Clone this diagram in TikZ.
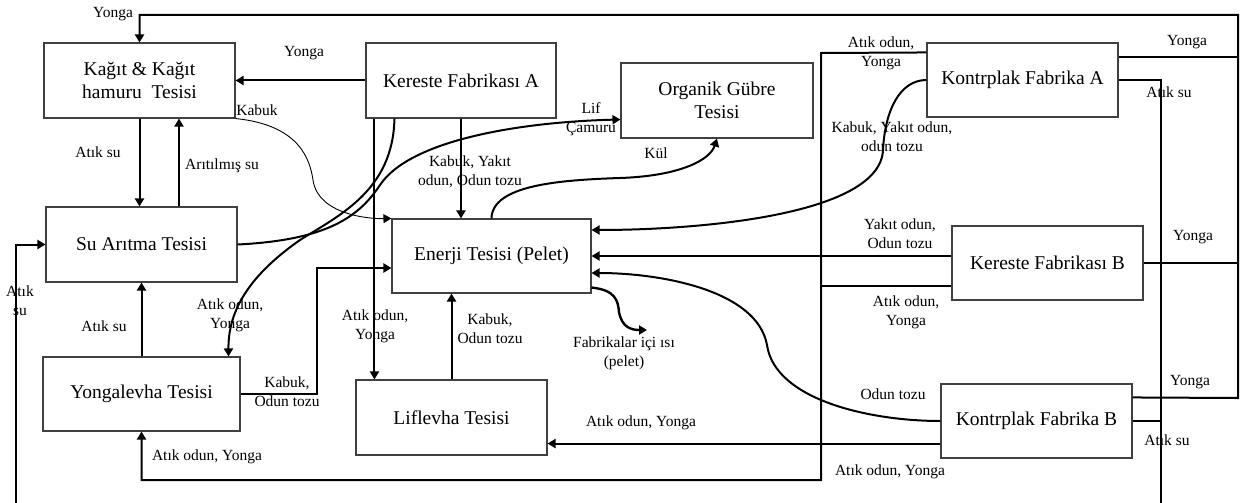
\documentclass[tikz,border=0pt]{standalone}
\usepackage{fontspec}
\setmainfont{Liberation Serif}
\usetikzlibrary{arrows.meta,calc}
\begin{document}
\begin{tikzpicture}[x=1pt,y=-1pt,
  box/.style={draw=black!75,line width=1.1pt,minimum width=191pt,minimum height=75pt,align=center,font=\fontsize{19.5}{23}\selectfont,inner sep=0pt},
  lbl/.style={align=center,font=\fontsize{15.5}{19}\selectfont,inner sep=0pt},
  conn/.style={line width=2pt},
  flow/.style={line width=2pt,-{Triangle[length=8pt,width=9pt]}},
  thinflow/.style={line width=0.9pt,-{Triangle[length=8pt,width=9pt]}}]
\useasboundingbox (0,0) rectangle (1240,503);
% boxes
\node[box] (kagit) at (139.5,80.5) {Kağıt \& Kağıt\\hamuru\ \ Tesisi};
\node[box,minimum width=190pt] (kerA) at (461,80.5) {Kereste Fabrikası A};
\node[box,minimum width=192pt] (org) at (717,100.5) {Organik Gübre\\Tesisi};
\node[box] (su) at (141.5,244.5) {Su Arıtma Tesisi};
\node[box,minimum width=199pt,minimum height=74pt] (ener) at (491.5,256) {Enerji Tesisi (Pelet)};
\node[box,minimum width=197pt,minimum height=74pt] (yonga) at (141.5,394) {Yongalevha Tesisi};
\node[box] (lif) at (451.5,417.5) {Liflevha Tesisi};
\node[box,minimum height=74pt] (konA) at (1022.5,80) {Kontrplak Fabrika A};
\node[box,minimum height=74pt] (kerB) at (1047.5,263) {Kereste Fabrikası B};
\node[box,minimum height=74pt] (konB) at (1036.5,421) {Kontrplak Fabrika B};
% coordinates
\coordinate (TL) at (kagit.north |- 0,15);
\coordinate (TR) at (1238,15);
\coordinate (BR) at (1238,398);
\coordinate (WS) at (1161,503);
\coordinate (WL) at (16,503);
\coordinate (BT) at (821,53);
\coordinate (BB) at (821,480);
\coordinate (kb2) at ($(kerB.south west)+(0,-15)$);
\coordinate (kp2) at ($(konB.south west)+(0,-15)$);
\coordinate (la) at ($(kerA.south west)+(9,0)$);
\coordinate (ar) at ($(su.north)+(37.5,0)$);
\coordinate (ye) at (317,268);
\coordinate (heat) at (647,330);
% outer frame and right-side lines
\draw[flow] ($(konB.north east)+(0,14)$) -- (BR) -- (TR) -- (TL) -- (kagit.north);
\draw[conn] (konA.north east |- 0,57) -- (BR |- 0,57);
\draw[conn] (kerB.east) -- (kerB.east -| BR);
\draw[conn] (konA.east) -| (WS);
\draw[conn] (konB.east) -- (konB.east -| WS);
\draw[flow] (WL) |- (su.west);
% bus
\draw[flow] ($(konA.north west)+(0,10)$) -- (BT) -- (BB) -| (yonga.south);
\draw[conn] (kb2) -- (kb2 -| BT);
\draw[flow] (kerB.west |- ener.east) -- (ener.east);
\draw[flow] (kp2) -- (kp2 -| lif.east);
% curves
\draw[flow] (konB.west) .. controls (870,421) and (775,400) .. (767,345) .. controls (757,290) and (660,273) .. ($(ener.east)+(0,17)$);
\draw[flow] (konA.west) .. controls (900,80) and (885,110) .. (883,150) .. controls (880,215) and (700,230) .. ($(ener.east)+(0,-26)$);
\draw[flow] (ener.north) .. controls (492,185) and (560,180) .. (620,178) .. controls (680,176) and (710,160) .. (org.south);
\draw[flow] (su.east) .. controls (330,240) and (360,215) .. (380,185) .. controls (410,140) and (520,122) .. ($(org.west)+(0,19)$);
\draw[flow] ($(kerA.south west)+(29,0)$) .. controls (393,190) and (340,215) .. (300,240) .. controls (250,275) and (228,310) .. ($(yonga.north east)+(-12,0)$);
\draw[thinflow] (kagit.south east) .. controls (300,125) and (310,160) .. (313,180) .. controls (318,215) and (370,219) .. (ener.north west);
% straight flows
\draw[flow] (kerA.west) -- (kagit.east);
\draw[flow] (kerA.south) -- (kerA.south |- ener.north);
\draw[flow] (la) -- (la |- lif.north);
\draw[flow] (kagit.south) -- (kagit.south |- su.north);
\draw[flow] (ar) -- (ar |- kagit.south);
\draw[flow] (yonga.north) -- (su.south);
\draw[flow] (yonga.east) -| (ye) -- (ye -| ener.west);
\draw[flow] (lif.north) -- (lif.north |- ener.south);
\draw[line width=2.4pt,-{Triangle[length=8pt,width=9pt]}] ($(ener.south east)+(0,-6)$) .. controls (615,290) and (618,300) .. (619,312) .. controls (622,328) and (632,330) .. (heat);
% labels
\node[lbl] (l1) at (113,14) {Yonga};
\node[lbl] (l2) at (304,53) {Yonga};
\node[lbl] (l3) at (257,110) {Kabuk};
\node[lbl] (l4) at (98,152) {Atık su};
\node[lbl] (l5) at (222,166) {Arıtılmış su};
\node[lbl] (l6) at (591,119) {Lif\\Çamuru};
\node[lbl] (l7) at (656,153) {Kül};
\node[lbl] (l8) at (470,172) {Kabuk, Yakıt\\odun, Odun tozu};
\node[lbl] (l9) at (881,53) {Atık odun,\\Yonga};
\node[lbl] (l10) at (1187,42) {Yonga};
\node[lbl] (l11) at (1169,92) {Atık su};
\node[lbl] (l12) at (892,137) {Kabuk, Yakıt odun,\\odun tozu};
\node[lbl] (l13) at (900,234) {Yakıt odun,\\Odun tozu};
\node[lbl] (l14) at (1193,237) {Yonga};
\node[lbl] (l15) at (906,312) {Atık odun,\\Yonga};
\node[lbl] (l16) at (893,394) {Odun tozu};
\node[lbl] (l17) at (1190,382) {Yonga};
\node[lbl] (l18) at (1167,440) {Atık su};
\node[lbl] (l19) at (890,472) {Atık odun, Yonga};
\node[lbl] (l20) at (641,423) {Atık odun, Yonga};
\node[lbl] (l21) at (624,353) {Fabrikalar içi ısı\\(pelet)};
\node[lbl] (l22) at (490,329) {Kabuk,\\Odun tozu};
\node[lbl] (l23) at (375,326) {Atık odun,\\Yonga};
\node[lbl] (l24) at (230,315) {Atık odun,\\Yonga};
\node[lbl] (l25) at (104,326) {Atık su};
\node[lbl] (l26) at (20,301) {Atık\\su};
\node[lbl] (l27) at (287,392) {Kabuk,\\Odun tozu};
\node[lbl] (l28) at (207,457) {Atık odun, Yonga};
\end{tikzpicture}
\end{document}
